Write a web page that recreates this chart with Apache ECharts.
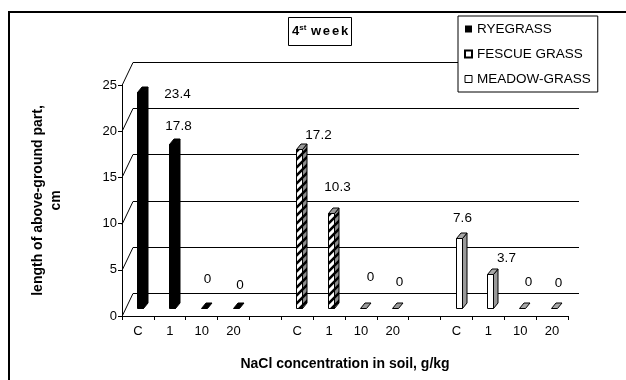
<!DOCTYPE html>
<html>
<head>
<meta charset="utf-8">
<script src="https://cdn.jsdelivr.net/npm/echarts@6/dist/echarts.min.js"></script>
<style>
  html, body { margin: 0; padding: 0; background: #fff; }
  #chart { width: 626px; height: 380px; }
</style>
</head>
<body>
<div id="chart"></div>
<script>
// Salt doses (C = control) and grasses
const doses = ['C', '1', '10', '20'];
const grasses = ['RYEGRASS', 'FESCUE GRASS', 'MEADOW-GRASS'];

// Length of above-ground part, cm, per dose
const ryegrass = [23.4, 17.8, 0, 0];
const fescue = [17.2, 10.3, 0, 0];
const meadow = [7.6, 3.7, 0, 0];

// Value axis ticks
const yTicks = [0, 5, 10, 15, 20, 25];

// Layout: where each value label sits relative to the top-left of its column (px)
const labelNudge = [
  [[40, 2], [9, -18.5], [6, -29], [6.5, -23]],
  [[22, -14], [9, -26], [10, -31], [7, -26]],
  [[6, -20], [19, -16], [9, -26], [7, -25]]
];

// Category axis: the three dose groups separated by an empty slot
const categories = [];
grasses.forEach((g, gi) => {
  if (gi > 0) categories.push('');
  doses.forEach(d => categories.push(d));
});
const groupStart = gi => gi * (doses.length + 1);

const FONT = "'Liberation Sans', Arial, sans-serif";

// pseudo-3D geometry (px)
const WALL_DX = 11, WALL_DY = -23;     // back wall offset
const LIFT = -8;                        // columns stand part-way into the floor
const FRONT_W = 6, DEPTH_DX = 4.5, DEPTH_DY = -5.5;

// diagonal hatch used for fescue
function hatch(bg) {
  const c = document.createElement('canvas');
  c.width = 8; c.height = 8;
  const ctx = c.getContext('2d');
  ctx.fillStyle = bg; ctx.fillRect(0, 0, 8, 8);
  ctx.strokeStyle = '#000'; ctx.lineWidth = 2.6;
  ctx.beginPath();
  ctx.moveTo(-2, 10); ctx.lineTo(10, -2);
  ctx.moveTo(-6, 6); ctx.lineTo(6, -6);
  ctx.moveTo(2, 14); ctx.lineTo(14, 2);
  ctx.stroke();
  return { image: c, repeat: 'repeat' };
}

const looks = [
  { front: '#000', side: '#000', top: '#000', stroke: '#000' },
  { front: hatch('#fff'), side: hatch('#8c8c8c'), top: '#9a9a9a', stroke: '#000' },
  { front: '#fff', side: '#9a9a9a', top: '#a8a8a8', stroke: '#000' }
];

function columnRenderer(gi) {
  const look = looks[gi];
  return function (params, api) {
    const k = params.dataIndex;
    const cat = api.value(0), v = api.value(1);
    const p0 = api.coord([cat, 0]);
    const pv = api.coord([cat, v]);
    const x = Math.round(p0[0]) - 0.5;
    const base = Math.round(p0[1] + LIFT) + 0.5;
    const top = Math.round(pv[1] + LIFT) + 0.5;
    const children = [];
    if (base - top > 0.5) {
      children.push({
        type: 'rect',
        shape: { x: x, y: top, width: FRONT_W, height: base - top },
        style: { fill: look.front, stroke: look.stroke, lineWidth: 1 }
      });
      children.push({
        type: 'polygon',
        shape: { points: [[x + FRONT_W, top], [x + FRONT_W + DEPTH_DX, top + DEPTH_DY],
                          [x + FRONT_W + DEPTH_DX, base + DEPTH_DY], [x + FRONT_W, base]] },
        style: { fill: look.side, stroke: look.stroke, lineWidth: 1 }
      });
    }
    children.push({
      type: 'polygon',
      shape: { points: [[x, top], [x + DEPTH_DX, top + DEPTH_DY],
                        [x + FRONT_W + DEPTH_DX, top + DEPTH_DY], [x + FRONT_W, top]] },
      style: { fill: look.top, stroke: look.stroke, lineWidth: 1 }
    });
    const n = labelNudge[gi][k];
    children.push({
      type: 'text',
      style: {
        x: x + n[0], y: top + n[1],
        text: String(v),
        align: 'center', verticalAlign: 'middle',
        fontSize: 13.5, fontFamily: FONT, fill: '#000'
      }
    });
    return { type: 'group', children: children };
  };
}

// back wall grid lines and the diagonals joining them to the value axis
function wallRenderer(params, api) {
  const cs = params.coordSys;
  const y = Math.round(api.coord([0, api.value(1)])[1]) + 0.5;
  const x0 = cs.x;
  const x1 = cs.x + cs.width;
  return {
    type: 'group',
    children: [
      { type: 'line', shape: { x1: x0, y1: y, x2: x0 + WALL_DX, y2: y + WALL_DY },
        style: { stroke: '#000', lineWidth: 1 } },
      { type: 'line', shape: { x1: x0 + WALL_DX, y1: y + WALL_DY, x2: x1 + WALL_DX, y2: y + WALL_DY },
        style: { stroke: '#000', lineWidth: 1 } }
    ]
  };
}

const seriesValues = [ryegrass, fescue, meadow];
const colors = ['#000', '#fff', '#fff'];

const series = [{
  type: 'custom',
  name: 'wall',
  clip: false,
  silent: true,
  z: 1,
  renderItem: wallRenderer,
  data: yTicks.map(t => [0, t])
}];
grasses.forEach((g, gi) => {
  series.push({
    type: 'custom',
    name: g,
    clip: false,
    z: 3,
    itemStyle: { color: colors[gi], borderColor: '#000' },
    renderItem: columnRenderer(gi),
    data: seriesValues[gi].map((v, k) => [groupStart(gi) + k, v])
  });
});

const chart = echarts.init(document.getElementById('chart'), null, { renderer: 'canvas' });
chart.setOption({
  animation: false,
  backgroundColor: '#fff',
  textStyle: { fontFamily: FONT },
  graphic: [{
    type: 'rect', z: 0, silent: true,
    shape: { x: 9, y: 12, width: 700, height: 500 },
    style: { fill: 'none', stroke: '#000', lineWidth: 2 }
  }],
  title: {
    left: 288, top: 17,
    borderColor: '#000', borderWidth: 1,
    padding: [7, 4, 8, 4],
    text: '{n|4}{s|st}{n| }{w|w}{w|e}{w|e}{n|k}',
    textStyle: {
      rich: {
        n: { fontSize: 13, fontWeight: 'bold', fontFamily: FONT, lineHeight: 15, color: '#000' },
        w: { fontSize: 13, fontWeight: 'bold', fontFamily: FONT, lineHeight: 15, color: '#000', padding: [0, 1.8, 0, 0] },
        s: { fontSize: 8, fontWeight: 'bold', fontFamily: FONT, lineHeight: 9, verticalAlign: 'top', color: '#000', padding: [0, 1, 0, 0] }
      }
    }
  },
  legend: {
    orient: 'vertical',
    left: 458, top: 16,
    padding: [6, 7, 6, 6],
    backgroundColor: '#fff',
    borderColor: '#000', borderWidth: 1, borderRadius: 0,
    itemWidth: 7, itemHeight: 7, itemGap: 11,
    textStyle: { fontSize: 13.5, fontFamily: FONT, color: '#000' },
    data: [
      { name: grasses[0], icon: 'rect', itemStyle: { color: '#000', borderWidth: 0 } },
      { name: grasses[1], icon: 'rect', itemStyle: { color: '#fff', borderColor: '#000', borderWidth: 2 } },
      { name: grasses[2], icon: 'rect', itemStyle: { color: '#fff', borderColor: '#000', borderWidth: 1 } }
    ]
  },
  grid: { left: 122, right: 58, top: 85, bottom: 64, containLabel: false },
  xAxis: {
    type: 'category',
    data: categories,
    boundaryGap: true,
    axisLine: { lineStyle: { color: '#000', width: 1 } },
    axisTick: { show: true, interval: 0, length: 4, lineStyle: { color: '#000' } },
    axisLabel: { interval: 0, margin: 9, fontSize: 13, fontFamily: FONT, color: '#000' },
    splitLine: { show: false },
    name: 'NaCl concentration in soil, g/kg',
    nameLocation: 'middle',
    nameGap: 41,
    nameTextStyle: { fontSize: 14, fontWeight: 'bold', fontFamily: FONT, color: '#000' }
  },
  yAxis: {
    type: 'value',
    min: 0, max: 25, interval: 5,
    axisLine: { show: true, lineStyle: { color: '#000', width: 1 } },
    axisTick: { show: true, length: 4, lineStyle: { color: '#000' } },
    axisLabel: { margin: 5, fontSize: 13, fontFamily: FONT, color: '#000' },
    splitLine: { show: false },
    name: 'length of above-ground part,\ncm',
    nameLocation: 'middle',
    nameGap: 57,
    nameTextStyle: { fontSize: 14, fontWeight: 'bold', fontFamily: FONT, color: '#000', lineHeight: 18, align: 'center' }
  },
  series: series
});
</script>
</body>
</html>
